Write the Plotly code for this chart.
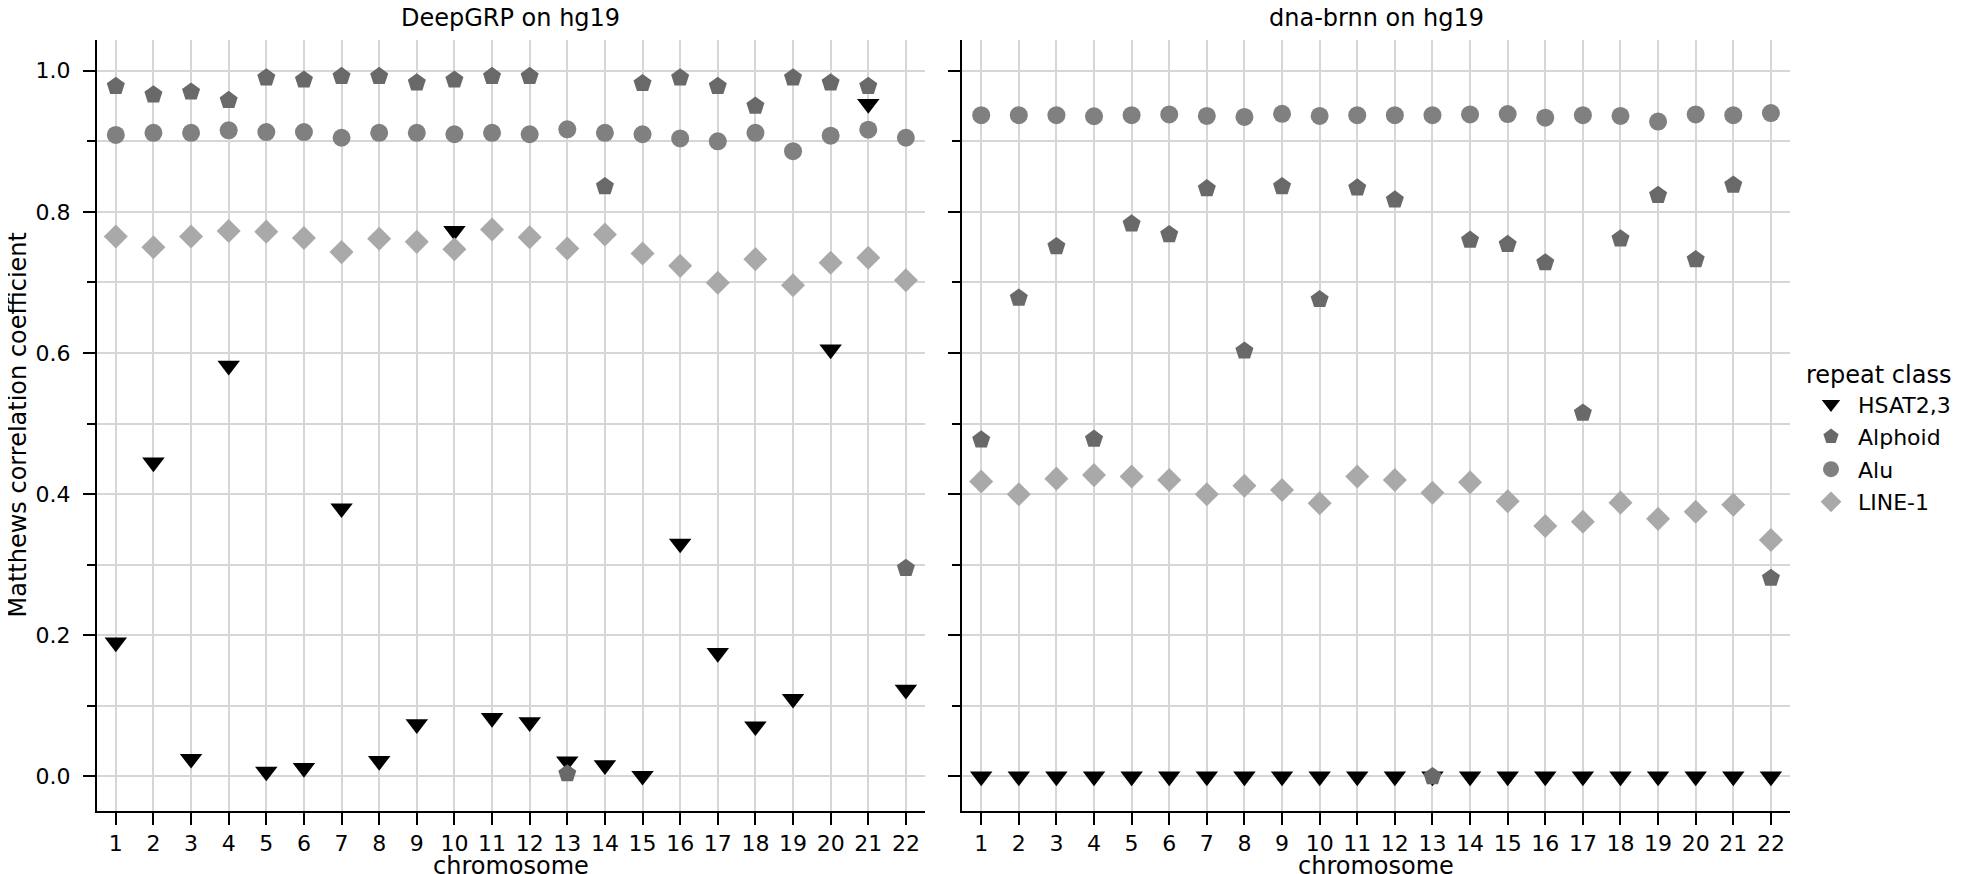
import plotly.graph_objects as go

# ---------------- data ----------------
chromosomes = list(range(1, 23))
tick_labels = [str(c) for c in chromosomes]
y_ticks = [0.0, 0.2, 0.4, 0.6, 0.8, 1.0]

classes = ["HSAT2,3", "Alphoid", "Alu", "LINE-1"]

deepgrp_hsat = [0.190, 0.445, 0.025, 0.582, 0.007, 0.012, 0.380, 0.022, 0.074, 0.773, 0.083,
                0.077, 0.0215, 0.016, 0.001, 0.330, 0.175, 0.071, 0.110, 0.605, 0.953, 0.123]
deepgrp_alphoid = [0.978, 0.966, 0.970, 0.958, 0.990, 0.987, 0.992, 0.992, 0.983, 0.987, 0.992,
                   0.992, 0.004, 0.836, 0.982, 0.990, 0.978, 0.950, 0.990, 0.983, 0.978, 0.295]
deepgrp_alu = [0.909, 0.912, 0.912, 0.9155, 0.913, 0.913, 0.905, 0.912, 0.912, 0.910, 0.912,
               0.910, 0.917, 0.912, 0.910, 0.904, 0.900, 0.912, 0.886, 0.908, 0.9165, 0.905]
deepgrp_line1 = [0.765, 0.750, 0.765, 0.773, 0.772, 0.763, 0.743, 0.762, 0.7575, 0.747, 0.775,
                 0.764, 0.748, 0.768, 0.741, 0.7235, 0.6995, 0.733, 0.696, 0.728, 0.735, 0.703]

brnn_hsat = [0.0, 0.0, 0.0, 0.0, 0.0, 0.0, 0.0, 0.0, 0.0, 0.0, 0.0,
             0.0, 0.0, 0.0, 0.0, 0.0, 0.0, 0.0, 0.0, 0.0, 0.0, 0.0]
brnn_alphoid = [0.477, 0.678, 0.751, 0.478, 0.783, 0.768, 0.833, 0.603, 0.836, 0.676, 0.834,
                0.817, 0.000, 0.760, 0.754, 0.728, 0.515, 0.762, 0.8235, 0.7325, 0.838, 0.281]
brnn_alu = [0.937, 0.937, 0.937, 0.9355, 0.937, 0.938, 0.936, 0.9345, 0.939, 0.936, 0.937,
            0.937, 0.937, 0.938, 0.9385, 0.9335, 0.937, 0.936, 0.928, 0.938, 0.937, 0.940]
brnn_line1 = [0.418, 0.400, 0.422, 0.427, 0.425, 0.420, 0.400, 0.412, 0.406, 0.387, 0.425,
              0.420, 0.402, 0.417, 0.390, 0.355, 0.361, 0.388, 0.365, 0.375, 0.385, 0.335]

panel_titles = ["DeepGRP on hg19", "dna-brnn on hg19"]
x_title = "chromosome"
y_title = "Matthews correlation coefficient"
legend_title = "repeat class"

# ---------------- styles ----------------
FONT = "DejaVu Sans"
colors = {"HSAT2,3": "#000000", "Alphoid": "#696969", "Alu": "#808080", "LINE-1": "#a9a9a9"}
symbols = {"HSAT2,3": "triangle-down", "Alphoid": "pentagon", "Alu": "circle", "LINE-1": "diamond"}
sizes = {"HSAT2,3": 19.5, "Alphoid": 19, "Alu": 18, "LINE-1": 18.5}
GRID = "#d6d6d6"

W, H = 1961, 874
left_dom = [89 / W, 916.7 / W]
right_dom = [954.4 / W, 1781.7 / W]
y_dom = [1 - 802.7 / H, 1 - 32.3 / H]

panels = [
    ("x", "y", {"HSAT2,3": deepgrp_hsat, "Alphoid": deepgrp_alphoid, "Alu": deepgrp_alu, "LINE-1": deepgrp_line1}),
    ("x2", "y2", {"HSAT2,3": brnn_hsat, "Alphoid": brnn_alphoid, "Alu": brnn_alu, "LINE-1": brnn_line1}),
]

fig = go.Figure()
for i, (xa, ya, data) in enumerate(panels):
    for cls in classes:
        fig.add_trace(go.Scatter(
            x=chromosomes, y=data[cls], mode="markers", name=cls,
            xaxis=xa, yaxis=ya, legendgroup=cls, showlegend=(i == 0),
            marker=dict(symbol=symbols[cls], size=sizes[cls], color=colors[cls],
                        line=dict(width=0)),
        ))

common_x = dict(
    range=[0.5, 22.5], tickmode="array", tickvals=chromosomes, ticktext=tick_labels,
    showgrid=True, gridcolor=GRID, gridwidth=1.6, zeroline=False, automargin=False,
    showline=True, linecolor="black", linewidth=2,
    ticks="outside", ticklen=12, tickwidth=2, tickcolor="black",
    tickfont=dict(family=FONT, size=22, color="black"),
)
common_y = dict(
    range=[-0.0485, 1.0431], domain=y_dom, tickmode="array", tickvals=y_ticks,
    ticktext=[f"{v:.1f}" for v in y_ticks], automargin=False,
    showgrid=True, gridcolor=GRID, gridwidth=1.6, zeroline=False,
    showline=True, linecolor="black", linewidth=2,
    ticks="outside", ticklen=12, tickwidth=2, tickcolor="black",
    tickfont=dict(family=FONT, size=22, color="black"),
    minor=dict(tickmode="linear", tick0=0, dtick=0.1, ticks="outside", ticklen=8,
               tickwidth=2, tickcolor="black", showgrid=True, gridcolor=GRID, gridwidth=1.6),
)

fig.update_layout(
    width=W, height=H, margin=dict(l=0, r=0, t=0, b=0, autoexpand=False),
    paper_bgcolor="white", plot_bgcolor="white",
    font=dict(family=FONT, size=22, color="black"),
    xaxis={**common_x, "domain": left_dom, "anchor": "y"},
    xaxis2={**common_x, "domain": right_dom, "anchor": "y2"},
    yaxis={**common_y, "anchor": "x", "ticklabelstandoff": 8},
    yaxis2={**common_y, "anchor": "x2", "matches": "y", "showticklabels": False},
    legend=dict(
        x=1796 / W, xanchor="left", y=1 - 344 / H, yanchor="top",
        title=dict(text=legend_title, font=dict(family=FONT, size=24, color="black")),
        font=dict(family=FONT, size=22, color="black"),
        bgcolor="rgba(0,0,0,0)", borderwidth=0, itemsizing="trace",
        tracegroupgap=1, itemwidth=44,
    ),
)

annotations = [
    dict(text=panel_titles[0], x=sum(left_dom) / 2, y=1 + 6 / H, yanchor="top"),
    dict(text=panel_titles[1], x=sum(right_dom) / 2, y=1 + 6 / H, yanchor="top"),
    dict(text=x_title, x=sum(left_dom) / 2, y=0, yanchor="bottom"),
    dict(text=x_title, x=sum(right_dom) / 2, y=0, yanchor="bottom"),
    dict(text=y_title, x=9 / W, y=sum(y_dom) / 2, textangle=-90, xanchor="center", yanchor="middle"),
]
for a in annotations:
    a.update(xref="paper", yref="paper", showarrow=False,
             font=dict(family=FONT, size=24, color="black"))
    a.setdefault("xanchor", "center")
fig.update_layout(annotations=annotations)

fig.write_html("out.html")
